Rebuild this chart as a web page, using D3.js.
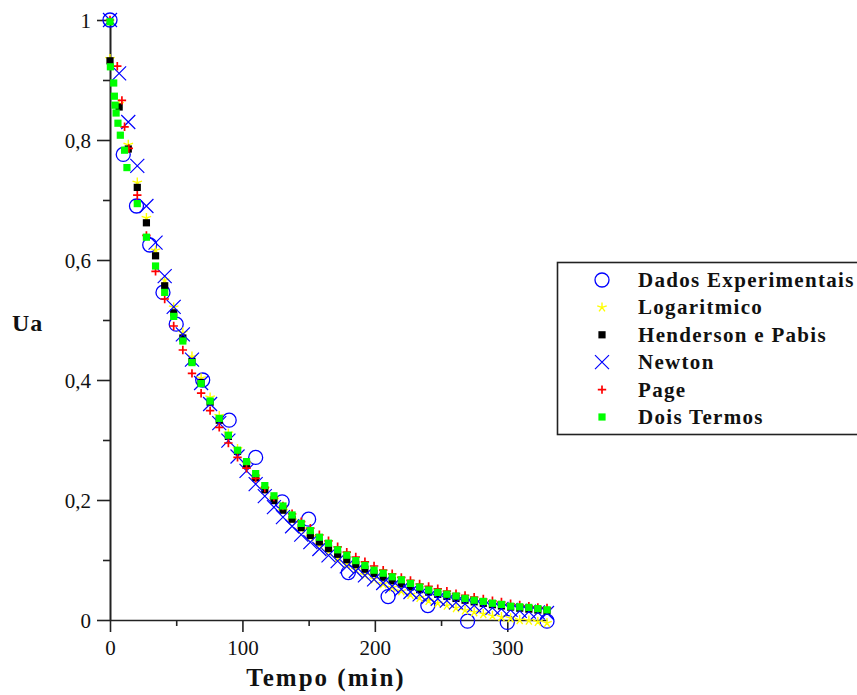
<!DOCTYPE html>
<html>
<head>
<meta charset="utf-8">
<script src="https://cdn.jsdelivr.net/npm/d3@7"></script>
<style>
  html, body { margin: 0; padding: 0; background: #fff; }
  svg { display: block; }
  .tick-label { font-family: "Liberation Serif", "Times New Roman", serif; font-size: 21px; fill: #111; }
  .title { font-family: "Liberation Serif", "Times New Roman", serif; font-weight: bold; fill: #111; }
</style>
</head>
<body>
<script>
// Drying kinetics: moisture ratio (Ua) versus time, experimental data and fitted models.

// Experimental points
const tExp  = [0, 10, 20, 30, 40, 50, 70, 90, 110, 130, 150, 180, 210, 240, 270, 300, 330];
const uaExp = [1.0, 0.776, 0.69, 0.625, 0.546, 0.493, 0.40, 0.333, 0.271, 0.197, 0.168, 0.079, 0.039, 0.024, -0.002, -0.004, -0.002];

// Time grid shared by Logaritmico, Henderson e Pabis and Newton
const tModel = [0, 6.9, 13.8, 20.6, 27.5, 34.4, 41.3, 48.1, 55, 61.9, 68.8, 75.6, 82.5, 89.4, 96.3, 103.1,
  110, 116.9, 123.8, 130.6, 137.5, 144.4, 151.3, 158.1, 165, 171.9, 178.8, 185.6, 192.5, 199.4, 206.3, 213.1,
  220, 226.9, 233.8, 240.6, 247.5, 254.4, 261.3, 268.1, 275, 281.9, 288.8, 295.6, 302.5, 309.4, 316.3, 323.1, 330];

const uaLog = [0.935, 0.860, 0.792, 0.729, 0.670, 0.616, 0.566, 0.521, 0.479, 0.439, 0.403, 0.371, 0.340, 0.311, 0.285, 0.261,
  0.239, 0.219, 0.200, 0.182, 0.166, 0.151, 0.138, 0.125, 0.114, 0.103, 0.093, 0.084, 0.075, 0.068, 0.060, 0.054,
  0.048, 0.042, 0.037, 0.032, 0.028, 0.024, 0.020, 0.016, 0.013, 0.010, 0.007, 0.005, 0.003, 0.000, -0.001, -0.003, -0.005];

const uaHP = [0.932, 0.855, 0.785, 0.721, 0.662, 0.607, 0.557, 0.512, 0.470, 0.431, 0.396, 0.363, 0.333, 0.306, 0.281, 0.258,
  0.237, 0.217, 0.199, 0.183, 0.168, 0.154, 0.141, 0.130, 0.119, 0.1095, 0.1005, 0.0923, 0.0846, 0.0777, 0.0713, 0.0655,
  0.0601, 0.0552, 0.0506, 0.0465, 0.0427, 0.0392, 0.0359, 0.033, 0.0303, 0.0278, 0.0255, 0.0234, 0.0215, 0.0197, 0.0181, 0.0166, 0.0153];

const uaNewton = [1.0, 0.911, 0.830, 0.757, 0.690, 0.629, 0.573, 0.522, 0.476, 0.434, 0.395, 0.360, 0.328, 0.299, 0.2725, 0.2486,
  0.2265, 0.2064, 0.188, 0.1715, 0.1563, 0.1424, 0.1297, 0.1183, 0.1078, 0.0982, 0.0895, 0.0816, 0.0743, 0.0678, 0.0617, 0.0563,
  0.0513, 0.0467, 0.0426, 0.0388, 0.0354, 0.0322, 0.0294, 0.0268, 0.0244, 0.0222, 0.0203, 0.0185, 0.0168, 0.0153, 0.014, 0.0128, 0.0116];

// Page model (denser at the start)
const tPage = [0, 5.5, 9, 11, 14.2, 20.6, 27.5, 34.4, 41.3, 48.1, 55, 61.9, 68.8, 75.6, 82.5, 89.4, 96.3, 103.1,
  110, 116.9, 123.8, 130.6, 137.5, 144.4, 151.3, 158.1, 165, 171.9, 178.8, 185.6, 192.5, 199.4, 206.3, 213.1,
  220, 226.9, 233.8, 240.6, 247.5, 254.4, 261.3, 268.1, 275, 281.9, 288.8, 295.6, 302.5, 309.4, 316.3, 323.1, 330];
const uaPage = [1.0, 0.923, 0.866, 0.822, 0.786, 0.708, 0.641, 0.581, 0.535, 0.49, 0.45, 0.411, 0.378, 0.349, 0.321, 0.295, 0.271, 0.253,
  0.236, 0.22, 0.205, 0.19, 0.177, 0.164, 0.153, 0.142, 0.132, 0.122, 0.113, 0.105, 0.097, 0.09, 0.083, 0.077,
  0.071, 0.066, 0.06, 0.056, 0.052, 0.048, 0.044, 0.041, 0.038, 0.035, 0.032, 0.03, 0.027, 0.025, 0.023, 0.021, 0.02];

// Dois Termos model (denser at the start)
const tDois = [0, 0.3, 2.8, 3.3, 3.8, 4.6, 6, 7.8, 11, 12.8, 20.6, 27.5, 34.4, 41.3, 48.1, 55, 61.9, 68.8, 75.6, 82.5, 89.4, 96.3, 103.1,
  110, 116.9, 123.8, 130.6, 137.5, 144.4, 151.3, 158.1, 165, 171.9, 178.8, 185.6, 192.5, 199.4, 206.3, 213.1,
  220, 226.9, 233.8, 240.6, 247.5, 254.4, 261.3, 268.1, 275, 281.9, 288.8, 295.6, 302.5, 309.4, 316.3, 323.1, 330];
const uaDois = [0.997, 0.922, 0.895, 0.873, 0.858, 0.845, 0.828, 0.808, 0.783, 0.754, 0.694, 0.638, 0.59, 0.546, 0.506, 0.465, 0.429, 0.394, 0.365, 0.336, 0.308, 0.283, 0.264,
  0.244, 0.224, 0.207, 0.19, 0.175, 0.161, 0.149, 0.138, 0.128, 0.117, 0.108, 0.099, 0.091, 0.083, 0.078, 0.072,
  0.067, 0.061, 0.055, 0.05, 0.046, 0.043, 0.04, 0.036, 0.033, 0.031, 0.028, 0.026, 0.023, 0.022, 0.021, 0.019, 0.017];

// Axis ticks
const xMajorTicks = [0, 100, 200, 300];
const xMinorTicks = [50, 150, 250];
const yMajorTicks = [0, 0.2, 0.4, 0.6, 0.8, 1];
const yMinorTicks = [0.1, 0.3, 0.5, 0.7, 0.9];
const yTickLabels = ["0", "0,2", "0,4", "0,6", "0,8", "1"];

const seriesNames = ["Dados Experimentais", "Logaritmico", "Henderson e Pabis", "Newton", "Page", "Dois Termos"];

const W = 857, H = 695;
const svg = d3.select("body").append("svg").attr("width", W).attr("height", H);
svg.append("rect").attr("width", W).attr("height", H).attr("fill", "#fff");

const x = d3.scaleLinear().domain([0, 330]).range([110, 547]);
const y = d3.scaleLinear().domain([0, 1]).range([620, 20]);

const axisColor = "#222";

// X axis
const gx = svg.append("g").attr("transform", `translate(0,${y(0)})`);
gx.call(d3.axisBottom(x).tickValues(xMajorTicks).tickSize(12).tickSizeOuter(0).tickFormat(d3.format("d")));
gx.select(".domain").attr("stroke", axisColor).attr("stroke-width", 1.6);
gx.selectAll(".tick line").attr("stroke", axisColor).attr("stroke-width", 1.6);
gx.selectAll(".tick text").attr("class", "tick-label").attr("y", 35).attr("dy", null).attr("font-size", null).attr("font-family", null);
const gxm = svg.append("g").attr("transform", `translate(0,${y(0)})`);
gxm.call(d3.axisBottom(x).tickValues(xMinorTicks).tickSize(6).tickSizeOuter(0).tickFormat(""));
gxm.select(".domain").remove();
gxm.selectAll(".tick line").attr("stroke", axisColor).attr("stroke-width", 1.6);

// Y axis
const gy = svg.append("g").attr("transform", `translate(${x(0)},0)`);
gy.call(d3.axisLeft(y).tickValues(yMajorTicks).tickSize(13).tickSizeOuter(0)
  .tickFormat((d, i) => yTickLabels[i]));
gy.select(".domain").attr("stroke", axisColor).attr("stroke-width", 2);
gy.selectAll(".tick line").attr("stroke", axisColor).attr("stroke-width", 1.6);
gy.selectAll(".tick text").attr("class", "tick-label").attr("x", -19).attr("dy", "0.35em").attr("font-size", null).attr("font-family", null);
const gym = svg.append("g").attr("transform", `translate(${x(0)},0)`);
gym.call(d3.axisLeft(y).tickValues(yMinorTicks).tickSize(7).tickSizeOuter(0).tickFormat(""));
gym.select(".domain").remove();
gym.selectAll(".tick line").attr("stroke", axisColor).attr("stroke-width", 1.6);

// Axis titles
svg.append("text").attr("class", "title").attr("x", 326).attr("y", 686)
  .attr("text-anchor", "middle").attr("font-size", 25).attr("letter-spacing", 2).text("Tempo (min)");
svg.append("text").attr("class", "title").attr("x", 12).attr("y", 331)
  .attr("font-size", 24).attr("letter-spacing", 1).text("Ua");

// Marker glyphs
const blue = "#0000ff", yellow = "#ffff00", red = "#ff0000", green = "#00ff00";
function starPath(r) {
  let p = "";
  for (let k = 0; k < 5; k++) {
    const a = -Math.PI / 2 + k * 2 * Math.PI / 5;
    p += `M0,0L${(r * Math.cos(a)).toFixed(2)},${(r * Math.sin(a)).toFixed(2)}`;
  }
  return p;
}
const glyphs = [
  g => g.append("circle").attr("r", 7).attr("fill", "none").attr("stroke", blue).attr("stroke-width", 1.3),
  g => g.append("path").attr("d", starPath(5)).attr("fill", "none").attr("stroke", yellow).attr("stroke-width", 1.4),
  g => g.append("rect").attr("x", -3.6).attr("y", -3.6).attr("width", 7.2).attr("height", 7.2).attr("fill", "#000"),
  g => g.append("path").attr("d", "M-7,-7L7,7M-7,7L7,-7").attr("fill", "none").attr("stroke", blue).attr("stroke-width", 1.2),
  g => g.append("path").attr("d", "M-4.2,0H4.2M0,-4.2V4.2").attr("fill", "none").attr("stroke", red).attr("stroke-width", 1.7),
  g => g.append("rect").attr("x", -3.6).attr("y", -3.6).attr("width", 7.2).attr("height", 7.2).attr("fill", green)
];

const series = [
  { t: tExp, v: uaExp },
  { t: tModel, v: uaLog },
  { t: tModel, v: uaHP },
  { t: tModel, v: uaNewton },
  { t: tPage, v: uaPage },
  { t: tDois, v: uaDois }
];

series.forEach((s, i) => {
  const pts = s.t.map((t, j) => ({ t, v: s.v[j] }));
  const g = svg.append("g");
  g.selectAll("g").data(pts).join("g")
    .attr("transform", d => `translate(${x(d.t)},${y(d.v)})`)
    .each(function () { glyphs[i](d3.select(this)); });
});

// Legend
const lg = svg.append("g");
lg.append("rect").attr("x", 557.5).attr("y", 262.5).attr("width", 320).attr("height", 172)
  .attr("fill", "#fff").attr("stroke", axisColor).attr("stroke-width", 1.6);
const rowY = d3.scalePoint().domain(d3.range(seriesNames.length)).range([280, 417]);
seriesNames.forEach((name, i) => {
  const row = lg.append("g").attr("transform", `translate(0,${rowY(i)})`);
  glyphs[i](row.append("g").attr("transform", "translate(602,0)"));
  row.append("text").attr("class", "title").attr("x", 638).attr("y", 7)
    .attr("font-size", 21).attr("letter-spacing", 1.3).text(name);
});
</script>
</body>
</html>
